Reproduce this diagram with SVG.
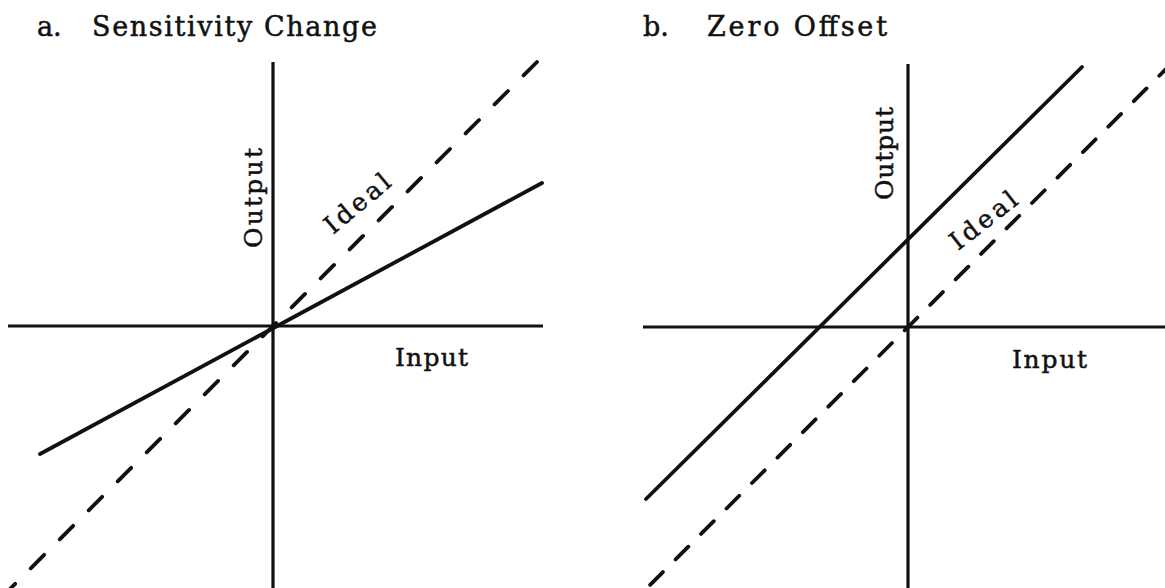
<svg xmlns="http://www.w3.org/2000/svg" width="1165" height="588" viewBox="0 0 1165 588">
<style>
.t{font-family:"DejaVu Serif","Liberation Serif",serif;fill:#111;stroke:#111;stroke-width:0.5;}
.title{font-size:27px;}
.lbl{font-size:25px;}
.axis{stroke:#111;stroke-width:3.2;fill:none;}
.solid{stroke:#111;stroke-width:3.8;fill:none;stroke-linecap:round;}
.dashA{stroke:#111;stroke-width:3.8;fill:none;stroke-linecap:round;stroke-dasharray:19 22;}
.dashB{stroke:#111;stroke-width:3.8;fill:none;stroke-linecap:round;stroke-dasharray:18 18;}
</style>
<rect width="1165" height="588" fill="#fff"/>
<g id="panel-a">
  <g id="title-a">
    <text class="t title" x="37" y="36">a.</text>
    <text class="t title" x="92" y="36" textLength="285" lengthAdjust="spacing">Sensitivity Change</text>
  </g>
  <g id="axes-a">
    <line class="axis" x1="273" y1="62" x2="273" y2="588"/>
    <line class="axis" x1="8" y1="326" x2="543" y2="326"/>
    <text class="t lbl" x="395" y="366" textLength="73" lengthAdjust="spacing">Input</text>
    <text class="t lbl" transform="translate(262,248) rotate(-90)" textLength="100" lengthAdjust="spacing">Output</text>
  </g>
  <g id="lines-a">
    <line class="dashA" x1="537" y1="62" x2="-5" y2="604"/>
    <line class="solid" x1="40" y1="454" x2="542" y2="183"/>
    <text class="t lbl" transform="translate(333,235) rotate(-40)" textLength="78" lengthAdjust="spacing">Ideal</text>
  </g>
</g>
<g id="panel-b">
  <g id="title-b">
    <text class="t title" x="643" y="36">b.</text>
    <text class="t title" x="707" y="36" textLength="180" lengthAdjust="spacing">Zero Offset</text>
  </g>
  <g id="axes-b">
    <line class="axis" x1="908" y1="64" x2="908" y2="588"/>
    <line class="axis" x1="643" y1="327" x2="1165" y2="327"/>
    <text class="t lbl" x="1012" y="368" textLength="75" lengthAdjust="spacing">Input</text>
    <text class="t lbl" transform="translate(893,200) rotate(-90)" textLength="93" lengthAdjust="spacing">Output</text>
  </g>
  <g id="lines-b">
    <line class="dashB" x1="1172" y1="63" x2="640" y2="595"/>
    <line class="solid" x1="646" y1="499" x2="1082" y2="67"/>
    <text class="t lbl" transform="translate(958,251) rotate(-38)" textLength="78" lengthAdjust="spacing">Ideal</text>
  </g>
</g>
</svg>
